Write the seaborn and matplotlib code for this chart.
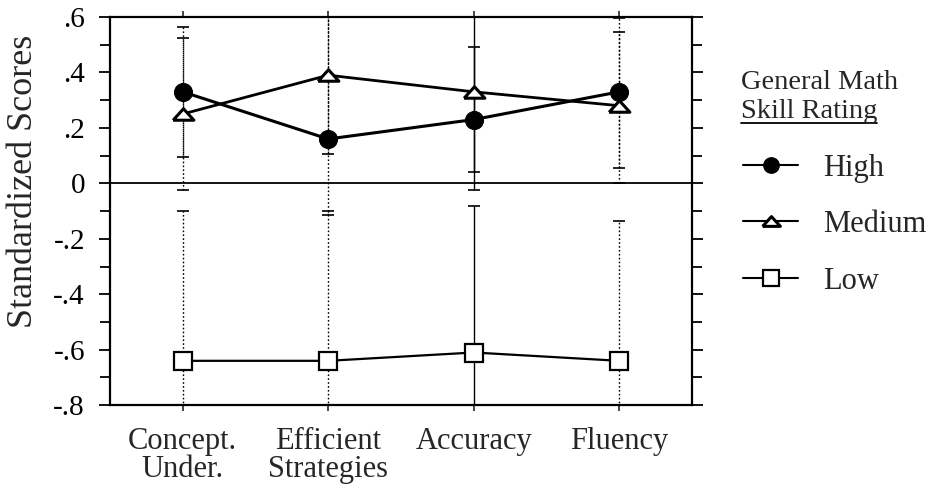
import numpy as np
import pandas as pd
import matplotlib
matplotlib.use("Agg")
import matplotlib.pyplot as plt
import seaborn as sns
from matplotlib.lines import Line2D

categories = ["Concept.\nUnder.", "Efficient\nStrategies", "Accuracy", "Fluency"]
groups = ["High", "Medium", "Low"]

high = [0.33, 0.16, 0.23, 0.33]
medium = [0.25, 0.39, 0.33, 0.28]
low = [-0.64, -0.64, -0.61, -0.64]

# error bar ends (some run past the axes)
high_lo = [0.095, 0.105, -0.025, 0.055]
high_hi = [0.565, 0.62, 0.49, 0.595]
medium_lo = [-0.025, -0.115, 0.04, 0.0]
medium_hi = [0.525, 0.65, 0.61, 0.545]
low_lo = [-1.2, -1.2, -1.15, -1.15]
low_hi = [-0.1, -0.1, -0.08, -0.135]

bar_styles = ["dotted", "dotted", "solid", "dotted"]

yticks = [0.6, 0.4, 0.2, 0.0, -0.2, -0.4, -0.6, -0.8]
ytick_labels = [".6", ".4", ".2", "0", "-.2", "-.4", "-.6", "-.8"]

sns.set_style("ticks")
plt.rcParams['font.family'] = ['Liberation Serif', 'DejaVu Serif']

df = pd.DataFrame({
    "pos": list(range(4)) * 3,
    "score": high + medium + low,
    "group": ["High"] * 4 + ["Medium"] * 4 + ["Low"] * 4,
})

fig = plt.figure(figsize=(9.35, 4.99), dpi=100)
ax = fig.add_axes([0.1176, 0.188, 0.6225, 0.778])

los = {"High": high_lo, "Medium": medium_lo, "Low": low_lo}
his = {"High": high_hi, "Medium": medium_hi, "Low": low_hi}
vals = {"High": high, "Medium": medium, "Low": low}

#error bars first, under the markers
for g in groups:
    for i in range(4):
        y = vals[g][i]
        eb = ax.errorbar([i], [y], yerr=[[y - los[g][i]], [his[g][i] - y]],
                         fmt="none", ecolor="black", elinewidth=1.0,
                         capsize=4, capthick=1.2, zorder=1)
        if bar_styles[i] == "dotted":
            eb[2][0].set_linestyle((0, (1.2, 1.6)))

ax.axhline(0, color="black", lw=1.3, zorder=1)

# flat triangle like the original
tri = [(-1.0, -0.55), (1.0, -0.55), (0.0, 0.55), (-1.0, -0.55)]
marker_opts = {
    "High": dict(marker="o", markerfacecolor="black", markersize=13, lw=2.2),
    "Medium": dict(marker=tri, markerfacecolor="white", markersize=15, lw=2.0, markeredgewidth=2.2),
    "Low": dict(marker="s", markerfacecolor="white", markersize=13, lw=1.6, markeredgewidth=1.6),
}
for g in groups:
    sub = df[df.group == g]
    sns.lineplot(data=sub, x="pos", y="score", color="black", ax=ax,
                 markeredgecolor="black", zorder=3, legend=False, **marker_opts[g])

ax.set_xlim(-0.5, 3.5)
ax.set_ylim(-0.8, 0.6)
ax.set_xticks(range(4))
ax.set_xticklabels(categories, fontsize=22, linespacing=0.95)
ax.set_yticks(yticks)
ax.set_yticklabels(ytick_labels, fontsize=21)
ax.set_yticks(np.arange(-0.7, 0.6, 0.2), minor=True)
ax.set_xlabel("")
ax.set_ylabel("Standardized Scores", fontsize=26)
ax.yaxis.set_label_coords(-0.12, 0.577)

ax.tick_params(axis="y", which="both", direction="out", left=True, right=True,
               width=1.3, colors="black")
ax.tick_params(axis="y", which="major", length=8, pad=10)
ax.tick_params(axis="y", which="minor", length=7)
ax.tick_params(axis="x", direction="out", top=True, bottom=True, length=4,
               width=1.2, pad=12)
for s in ax.spines.values():
    s.set_visible(True)
    s.set_linewidth(1.6)
    s.set_color("black")

# legend
handles = [Line2D([0], [0], color="black", **marker_opts[g]) for g in groups]
for h in handles:
    h.set_markersize(h.get_markersize() * 0.85)
    h.set_linewidth(1.5)
leg = fig.legend(handles, groups, loc="upper left", bbox_to_anchor=(0.795, 0.692),
                 frameon=False, fontsize=22, handlelength=1.8, handletextpad=0.8,
                 labelspacing=0.9, borderpad=0, borderaxespad=0)

fig.text(0.792, 0.834, "General Math", fontsize=20.5, va="center", ha="left")
t2 = fig.text(0.792, 0.777, "Skill Rating", fontsize=20.5, va="center", ha="left")
fig.canvas.draw()
bb = t2.get_window_extent().transformed(fig.transFigure.inverted())
fig.add_artist(Line2D([bb.x0, bb.x1], [bb.y0 + 0.002, bb.y0 + 0.002],
                      color="black", lw=1.3, transform=fig.transFigure))

fig.savefig("out.png", dpi=100)
